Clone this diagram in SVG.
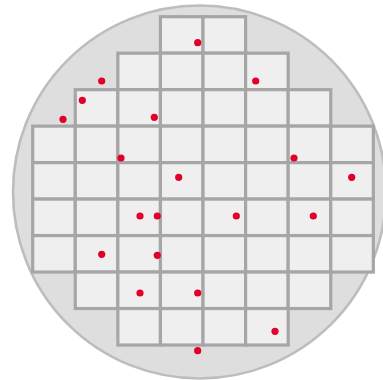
<svg xmlns="http://www.w3.org/2000/svg" width="383" height="380" viewBox="0 0 383 380">
<style>
.wafer{fill:#dedede;stroke:#bdbdbd;stroke-width:2.6}
.die{fill:#efefef;stroke:#a6a6a6;stroke-width:3.2}
.defect{fill:#e2002a}
</style>
<rect width="383" height="380" fill="#ffffff"/>
<g id="wafer"><circle class="wafer" cx="199.5" cy="192" r="186.5"/></g>
<g id="dies">
<rect class="die" x="160.44" y="16.7" width="42.58" height="36.48"/>
<rect class="die" x="203.02" y="16.7" width="42.58" height="36.48"/>

<rect class="die" x="117.86" y="53.18" width="42.58" height="36.48"/>
<rect class="die" x="160.44" y="53.18" width="42.58" height="36.48"/>
<rect class="die" x="203.02" y="53.18" width="42.58" height="36.48"/>
<rect class="die" x="245.6" y="53.18" width="42.58" height="36.48"/>

<rect class="die" x="75.28" y="89.66" width="42.58" height="36.48"/>
<rect class="die" x="117.86" y="89.66" width="42.58" height="36.48"/>
<rect class="die" x="160.44" y="89.66" width="42.58" height="36.48"/>
<rect class="die" x="203.02" y="89.66" width="42.58" height="36.48"/>
<rect class="die" x="245.6" y="89.66" width="42.58" height="36.48"/>
<rect class="die" x="288.18" y="89.66" width="42.58" height="36.48"/>

<rect class="die" x="32.7" y="126.14" width="42.58" height="36.48"/>
<rect class="die" x="75.28" y="126.14" width="42.58" height="36.48"/>
<rect class="die" x="117.86" y="126.14" width="42.58" height="36.48"/>
<rect class="die" x="160.44" y="126.14" width="42.58" height="36.48"/>
<rect class="die" x="203.02" y="126.14" width="42.58" height="36.48"/>
<rect class="die" x="245.6" y="126.14" width="42.58" height="36.48"/>
<rect class="die" x="288.18" y="126.14" width="42.58" height="36.48"/>
<rect class="die" x="330.76" y="126.14" width="42.58" height="36.48"/>

<rect class="die" x="32.7" y="162.62" width="42.58" height="36.48"/>
<rect class="die" x="75.28" y="162.62" width="42.58" height="36.48"/>
<rect class="die" x="117.86" y="162.62" width="42.58" height="36.48"/>
<rect class="die" x="160.44" y="162.62" width="42.58" height="36.48"/>
<rect class="die" x="203.02" y="162.62" width="42.58" height="36.48"/>
<rect class="die" x="245.6" y="162.62" width="42.58" height="36.48"/>
<rect class="die" x="288.18" y="162.62" width="42.58" height="36.48"/>
<rect class="die" x="330.76" y="162.62" width="42.58" height="36.48"/>

<rect class="die" x="32.7" y="199.1" width="42.58" height="36.48"/>
<rect class="die" x="75.28" y="199.1" width="42.58" height="36.48"/>
<rect class="die" x="117.86" y="199.1" width="42.58" height="36.48"/>
<rect class="die" x="160.44" y="199.1" width="42.58" height="36.48"/>
<rect class="die" x="203.02" y="199.1" width="42.58" height="36.48"/>
<rect class="die" x="245.6" y="199.1" width="42.58" height="36.48"/>
<rect class="die" x="288.18" y="199.1" width="42.58" height="36.48"/>
<rect class="die" x="330.76" y="199.1" width="42.58" height="36.48"/>

<rect class="die" x="32.7" y="235.58" width="42.58" height="36.48"/>
<rect class="die" x="75.28" y="235.58" width="42.58" height="36.48"/>
<rect class="die" x="117.86" y="235.58" width="42.58" height="36.48"/>
<rect class="die" x="160.44" y="235.58" width="42.58" height="36.48"/>
<rect class="die" x="203.02" y="235.58" width="42.58" height="36.48"/>
<rect class="die" x="245.6" y="235.58" width="42.58" height="36.48"/>
<rect class="die" x="288.18" y="235.58" width="42.58" height="36.48"/>
<rect class="die" x="330.76" y="235.58" width="42.58" height="36.48"/>

<rect class="die" x="75.28" y="272.06" width="42.58" height="36.48"/>
<rect class="die" x="117.86" y="272.06" width="42.58" height="36.48"/>
<rect class="die" x="160.44" y="272.06" width="42.58" height="36.48"/>
<rect class="die" x="203.02" y="272.06" width="42.58" height="36.48"/>
<rect class="die" x="245.6" y="272.06" width="42.58" height="36.48"/>
<rect class="die" x="288.18" y="272.06" width="42.58" height="36.48"/>

<rect class="die" x="117.86" y="308.54" width="42.58" height="36.48"/>
<rect class="die" x="160.44" y="308.54" width="42.58" height="36.48"/>
<rect class="die" x="203.02" y="308.54" width="42.58" height="36.48"/>
<rect class="die" x="245.6" y="308.54" width="42.58" height="36.48"/>
</g>
<g id="defects">
<circle class="defect" cx="197.7" cy="42.7" r="3.6"/>
<circle class="defect" cx="101.7" cy="81" r="3.6"/>
<circle class="defect" cx="255.7" cy="81" r="3.6"/>
<circle class="defect" cx="82.3" cy="100.3" r="3.6"/>
<circle class="defect" cx="63" cy="119.3" r="3.6"/>
<circle class="defect" cx="154.3" cy="117.3" r="3.6"/>
<circle class="defect" cx="121" cy="158" r="3.6"/>
<circle class="defect" cx="294" cy="158" r="3.6"/>
<circle class="defect" cx="178.7" cy="177.3" r="3.6"/>
<circle class="defect" cx="351.7" cy="177.3" r="3.6"/>
<circle class="defect" cx="140" cy="216" r="3.6"/>
<circle class="defect" cx="157.3" cy="216" r="3.6"/>
<circle class="defect" cx="236.3" cy="216" r="3.6"/>
<circle class="defect" cx="313.3" cy="216" r="3.6"/>
<circle class="defect" cx="101.7" cy="254.3" r="3.6"/>
<circle class="defect" cx="157.3" cy="255.3" r="3.6"/>
<circle class="defect" cx="140" cy="293" r="3.6"/>
<circle class="defect" cx="197.7" cy="293" r="3.6"/>
<circle class="defect" cx="275" cy="331.3" r="3.6"/>
<circle class="defect" cx="197.7" cy="350.7" r="3.6"/>
</g>
</svg>
